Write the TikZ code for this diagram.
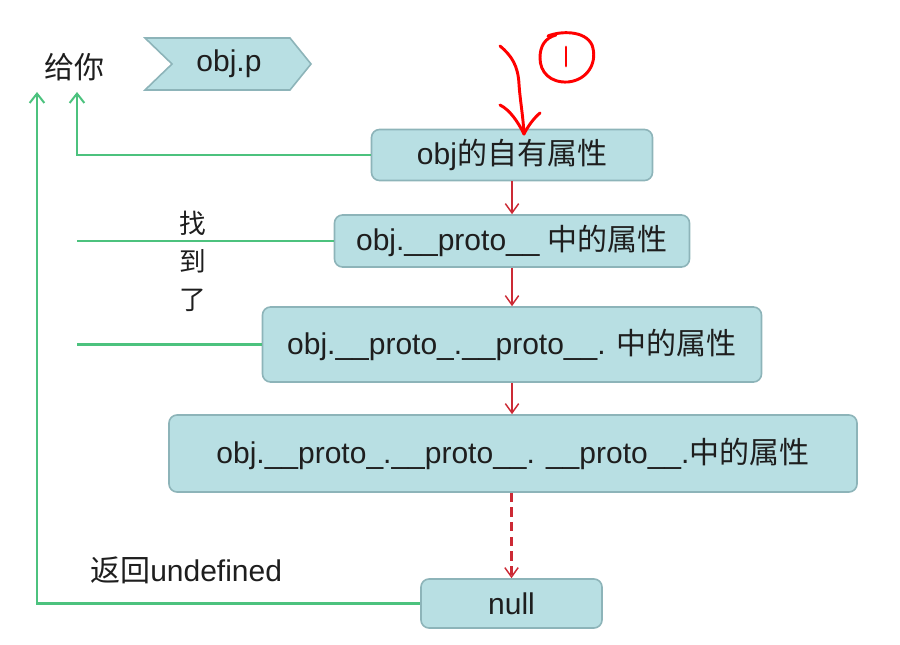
\documentclass[tikz,border=0pt]{standalone}
\usepackage{fontspec}
\setmainfont{Liberation Sans}
\newfontfamily\cjk{Noto Sans CJK SC}
\usetikzlibrary{arrows.meta}
\definecolor{boxfill}{HTML}{B8DFE3}
\definecolor{boxborder}{HTML}{8DB4B9}
\definecolor{greenc}{HTML}{4CC27E}
\definecolor{redc}{HTML}{CC2A35}
\definecolor{txt}{HTML}{1E1E1E}
\tikzset{
  protobox/.style={draw=boxborder, fill=boxfill, rounded corners=6pt, line width=1.2pt,
    inner sep=0pt, text=txt, font=\fontsize{22.5}{26}\selectfont},
  garrow/.style={draw=greenc, line width=1.6pt, -{Straight Barb[length=7pt,width=11pt,line width=1.5pt]}},
  gconn/.style={draw=greenc, line width=1.6pt},
  rarrow/.style={draw=redc, line width=1.1pt, -{Straight Barb[length=7pt,width=10pt,line width=1.1pt]}},
  lbl/.style={text=txt, font=\fontsize{22.5}{26}\selectfont, inner sep=0pt},
  hand/.style={draw=red, line width=2.2pt, line cap=round, line join=round}
}
\begin{document}
\begin{tikzpicture}[x=0.75pt,y=-0.75pt]
\useasboundingbox (0,0) rectangle (900,645);
% obj.p chevron
\filldraw[fill=boxfill, draw=boxborder, line width=1.2pt]
  (145,38) -- (290,38) -- (311,64) -- (290,90) -- (145,90) -- (172,64) -- cycle;
\node[lbl] (objp) at (229,64) {obj.p};
\node[lbl] (give) at (74,67) {\cjk 给你};

% boxes
\node[protobox, minimum width=210.75pt, minimum height=38.25pt] (b1) at (512,155) {obj{\cjk 的自有属性}};
\node[protobox, minimum width=266.25pt, minimum height=39pt] (b2) at (512,241) {obj.\_\_proto\_\_ {\cjk 中的属性}};
\node[protobox, minimum width=374.25pt, minimum height=56.25pt] (b3) at (512,344.5) {obj.\_\_proto\_.\_\_proto\_\_. {\cjk 中的属性}};
\node[protobox, minimum width=516pt, minimum height=57.75pt] (b4) at (513,453.5) {obj.\_\_proto\_.\_\_proto\_\_. \_\_proto\_\_.{\cjk 中的属性}};
\node[protobox, minimum width=135.75pt, minimum height=36.75pt] (nul) at (511.5,603.5) {null};

% red arrows
\draw[rarrow] (b1.south) -- (b2.north);
\draw[rarrow] (b2.south) -- (b3.north);
\draw[rarrow] (b3.south) -- (b3.south |- b4.north);
\draw[rarrow, line width=1.6pt, dash pattern=on 7pt off 4pt] (b4.south -| nul.north) -- (nul.north);

% green arrows
\coordinate (gtopA) at (77,92);
\coordinate (gtopB) at (37,92);
\draw[garrow] (b1.west) -| (gtopA);
\draw[gconn] (b2.west) -- (b2.west -| gtopA);
\draw[gconn] (b3.west) -- (b3.west -| gtopA);
\draw[garrow] (nul.west) -| (gtopB);

% labels
\node[lbl, align=center, font=\fontsize{20}{28.5}\cjk] (found) at (193,261) {找\\到\\了};
\node[lbl, anchor=west] (undef) at (90,570) {{\cjk 返回}undefined};

% hand drawn annotation
\coordinate (handtip) at (524,134);
\draw[hand] (500,46) .. controls (512,56) and (518,66) .. (519,84)
  .. controls (520,100) and (523,115) .. (handtip);
\draw[hand] (500,105) .. controls (510,110) and (518,122) .. (handtip);
\draw[hand] (540,113) .. controls (534,118) and (528,126) .. (handtip);
\draw[hand] (548,36) .. controls (560,31) and (585,30) .. (592,45)
  .. controls (598,62) and (588,80) .. (568,82)
  .. controls (550,83) and (540,72) .. (540,58)
  .. controls (540,46) and (545,38) .. (556,35);
\draw[hand] (566,47) -- (566,66);
\end{tikzpicture}
\end{document}
